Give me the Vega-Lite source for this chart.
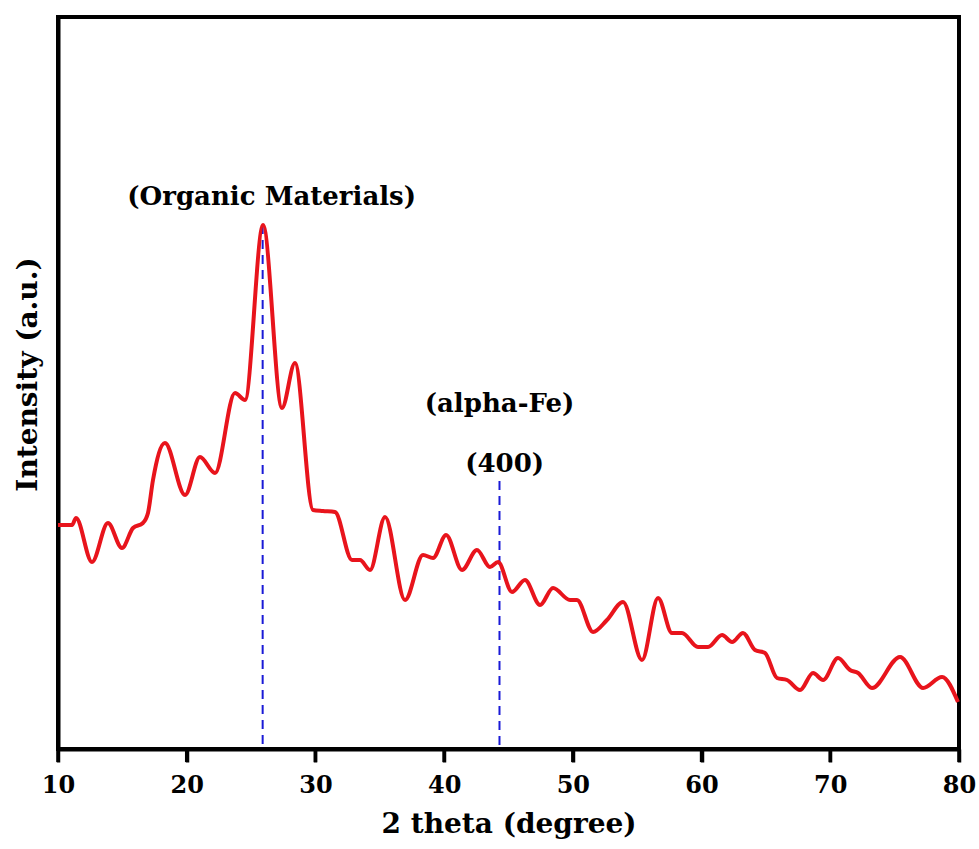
{
  "$schema": "https://vega.github.io/schema/vega-lite/v6.json",
  "width": 901,
  "height": 732,
  "autosize": "none",
  "padding": {"left": 58, "top": 17, "right": 20, "bottom": 100},
  "background": "white",
  "config": {
    "view": {"stroke": "black", "strokeWidth": 4},
    "font": "DejaVu Serif",
    "axis": {"grid": false}
  },
  "datasets": {
    "pattern": [
      {"theta": 10.00, "intensity": 224},
      {"theta": 11.09, "intensity": 224},
      {"theta": 11.40, "intensity": 231},
      {"theta": 12.64, "intensity": 187},
      {"theta": 13.88, "intensity": 226},
      {"theta": 14.97, "intensity": 201},
      {"theta": 15.83, "intensity": 221},
      {"theta": 16.60, "intensity": 226},
      {"theta": 16.99, "intensity": 236},
      {"theta": 17.38, "intensity": 269},
      {"theta": 18.31, "intensity": 306},
      {"theta": 19.87, "intensity": 254},
      {"theta": 21.03, "intensity": 292},
      {"theta": 22.20, "intensity": 276},
      {"theta": 23.75, "intensity": 356},
      {"theta": 24.53, "intensity": 349},
      {"theta": 25.93, "intensity": 524},
      {"theta": 27.40, "intensity": 341},
      {"theta": 28.41, "intensity": 386},
      {"theta": 29.81, "intensity": 239},
      {"theta": 30.59, "intensity": 238},
      {"theta": 31.52, "intensity": 237},
      {"theta": 32.84, "intensity": 189},
      {"theta": 33.46, "intensity": 189},
      {"theta": 34.24, "intensity": 179},
      {"theta": 35.41, "intensity": 232},
      {"theta": 36.96, "intensity": 149},
      {"theta": 38.36, "intensity": 194},
      {"theta": 39.14, "intensity": 191},
      {"theta": 40.15, "intensity": 214},
      {"theta": 41.39, "intensity": 179},
      {"theta": 42.55, "intensity": 199},
      {"theta": 43.56, "intensity": 182},
      {"theta": 44.19, "intensity": 187},
      {"theta": 45.27, "intensity": 157},
      {"theta": 46.28, "intensity": 169},
      {"theta": 47.45, "intensity": 144},
      {"theta": 48.46, "intensity": 161},
      {"theta": 49.78, "intensity": 149},
      {"theta": 50.32, "intensity": 149},
      {"theta": 51.57, "intensity": 117},
      {"theta": 52.65, "intensity": 129},
      {"theta": 53.90, "intensity": 147},
      {"theta": 55.37, "intensity": 89},
      {"theta": 56.62, "intensity": 151},
      {"theta": 57.70, "intensity": 116},
      {"theta": 58.48, "intensity": 116},
      {"theta": 59.72, "intensity": 102},
      {"theta": 60.50, "intensity": 102},
      {"theta": 61.59, "intensity": 114},
      {"theta": 62.37, "intensity": 107},
      {"theta": 63.22, "intensity": 116},
      {"theta": 64.15, "intensity": 99},
      {"theta": 64.93, "intensity": 96},
      {"theta": 65.86, "intensity": 71},
      {"theta": 66.64, "intensity": 69},
      {"theta": 67.65, "intensity": 59},
      {"theta": 68.66, "intensity": 76},
      {"theta": 69.44, "intensity": 69},
      {"theta": 70.60, "intensity": 91},
      {"theta": 71.53, "intensity": 79},
      {"theta": 72.16, "intensity": 76},
      {"theta": 73.24, "intensity": 61},
      {"theta": 75.42, "intensity": 92},
      {"theta": 77.21, "intensity": 61},
      {"theta": 78.68, "intensity": 72},
      {"theta": 79.92, "intensity": 47}
    ],
    "markers": [
      {"theta": 25.9, "top": 524},
      {"theta": 44.3, "top": 268}
    ],
    "majorTicks": [
      {"theta": 10}, {"theta": 20}, {"theta": 30}, {"theta": 40},
      {"theta": 50}, {"theta": 60}, {"theta": 70}, {"theta": 80}
    ],
    "labels": [
      {"theta": 26.6, "intensity": 552, "text": "(Organic Materials)"},
      {"theta": 44.3, "intensity": 345, "text": "(alpha-Fe)"},
      {"theta": 44.7, "intensity": 285, "text": "(400)"}
    ]
  },
  "encoding": {
    "x": {
      "field": "theta",
      "type": "quantitative",
      "scale": {"domain": [10, 80], "nice": false},
      "axis": {
        "title": "2 theta (degree)",
        "titleFont": "DejaVu Serif",
        "titleFontSize": 28,
        "titleFontWeight": "bold",
        "titleColor": "black",
        "titlePadding": 13,
        "values": [10, 20, 30, 40, 50, 60, 70, 80],
        "labelFont": "DejaVu Serif",
        "labelFontSize": 24,
        "labelFontWeight": "bold",
        "labelColor": "black",
        "labelPadding": 11,
        "labelFlush": false,
        "domainColor": "black",
        "domainWidth": 4,
        "ticks": true,
        "tickColor": "black",
        "tickWidth": 3.5,
        "tickSize": 13
      }
    }
  },
  "layer": [
    {
      "data": {"name": "majorTicks"},
      "mark": {"type": "rule", "color": "black", "strokeWidth": 3.5, "clip": false},
      "encoding": {
        "y": {"datum": 0, "type": "quantitative"},
        "y2": {"datum": -13}
      }
    },
    {
      "data": {"name": "markers"},
      "mark": {"type": "rule", "color": "#1a1ad6", "strokeWidth": 2, "strokeDash": [9, 6]},
      "encoding": {
        "y": {"field": "top", "type": "quantitative"},
        "y2": {"datum": 0}
      }
    },
    {
      "data": {"name": "pattern"},
      "mark": {"type": "line", "color": "#e8141c", "strokeWidth": 4, "interpolate": "monotone"},
      "encoding": {
        "y": {
          "field": "intensity",
          "type": "quantitative",
          "scale": {"domain": [0, 732], "nice": false, "zero": false},
          "axis": {
            "title": "Intensity (a.u.)",
            "titleFont": "DejaVu Serif",
            "titleFontSize": 28,
            "titleFontWeight": "bold",
            "titleColor": "black",
            "titlePadding": 16,
            "titleY": 357,
            "labels": false,
            "ticks": false,
            "domainColor": "black",
            "domainWidth": 4
          }
        }
      }
    },
    {
      "data": {"name": "labels"},
      "mark": {"type": "text", "font": "DejaVu Serif", "fontSize": 26, "fontWeight": "bold", "color": "black", "align": "center", "baseline": "middle"},
      "encoding": {
        "y": {"field": "intensity", "type": "quantitative"},
        "text": {"field": "text"}
      }
    }
  ]
}
